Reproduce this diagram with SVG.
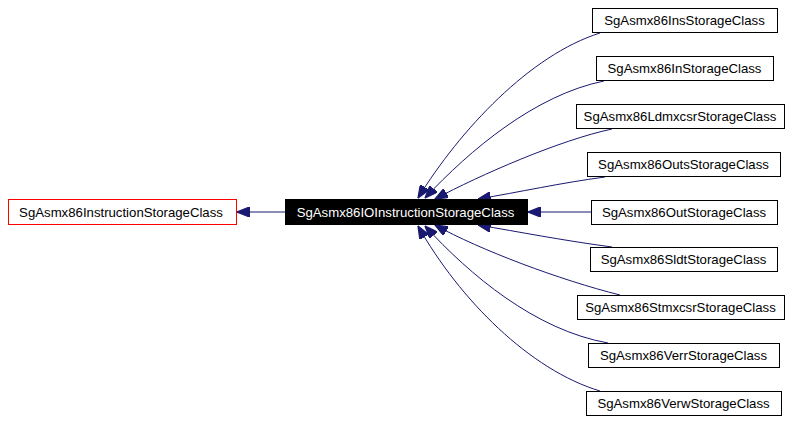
<svg xmlns="http://www.w3.org/2000/svg" width="800" height="421" viewBox="0 0 800 421">
<defs>
<style>
.box{fill:#fff;stroke:#000;stroke-width:1}
.t{font-family:"Liberation Sans",Arial,sans-serif;font-size:13.2px;text-anchor:middle;fill:#000}
.e{fill:none;stroke:#191970;stroke-width:1}
</style>
<marker id="ah" viewBox="0 0 10 8" refX="10" refY="4" markerWidth="13" markerHeight="10" markerUnits="userSpaceOnUse" orient="auto">
<path d="M0,0 L10,4 L0,8 Z" fill="#191970" stroke="#191970"/>
</marker>
</defs>
<rect width="800" height="421" fill="#fff"/>
<g id="connectors">
<path class="e" marker-end="url(#ah)" d="M285,212 L237,212"/>
<path class="e" marker-end="url(#ah)" d="M600,33 C530,55 460,130 418,198"/>
<path class="e" marker-end="url(#ah)" d="M604,81 C535,95 470,150 425,198"/>
<path class="e" marker-end="url(#ah)" d="M612,129 C560,140 480,175 435,199"/>
<path class="e" marker-end="url(#ah)" d="M605,177 C560,183 520,192 478,199"/>
<path class="e" marker-end="url(#ah)" d="M591,212 L528,212"/>
<path class="e" marker-end="url(#ah)" d="M612,247 C560,240 520,232 478,225"/>
<path class="e" marker-end="url(#ah)" d="M620,295 C560,280 480,250 435,225"/>
<path class="e" marker-end="url(#ah)" d="M608,343 C535,330 470,275 425,226"/>
<path class="e" marker-end="url(#ah)" d="M600,391 C530,370 460,300 418,226"/>
</g>
<g id="SgAsmx86InstructionStorageClass">
<rect x="8.5" y="199.5" width="228" height="25" fill="#fff" stroke="#f00"/>
<text class="t" x="121" y="216.5">SgAsmx86InstructionStorageClass</text>
</g>
<g id="SgAsmx86IOInstructionStorageClass">
<rect x="285.5" y="199.5" width="242" height="25" fill="#000" stroke="#000"/>
<text class="t" x="405.5" y="216.5" style="fill:#fff">SgAsmx86IOInstructionStorageClass</text>
</g>
<g id="SgAsmx86InsStorageClass">
<rect class="box" x="592.5" y="8.5" width="185" height="24"/>
<text class="t" x="684.5" y="25">SgAsmx86InsStorageClass</text>
</g>
<g id="SgAsmx86InStorageClass">
<rect class="box" x="596.5" y="56.5" width="177" height="24"/>
<text class="t" x="684.5" y="73">SgAsmx86InStorageClass</text>
</g>
<g id="SgAsmx86LdmxcsrStorageClass">
<rect class="box" x="576.5" y="104.5" width="208" height="24"/>
<text class="t" x="680" y="121">SgAsmx86LdmxcsrStorageClass</text>
</g>
<g id="SgAsmx86OutsStorageClass">
<rect class="box" x="587.5" y="152.5" width="193" height="24"/>
<text class="t" x="683.5" y="169">SgAsmx86OutsStorageClass</text>
</g>
<g id="SgAsmx86OutStorageClass">
<rect class="box" x="591.5" y="200.5" width="186" height="24"/>
<text class="t" x="684" y="217">SgAsmx86OutStorageClass</text>
</g>
<g id="SgAsmx86SldtStorageClass">
<rect class="box" x="590.5" y="247.5" width="187" height="24"/>
<text class="t" x="683.5" y="264">SgAsmx86SldtStorageClass</text>
</g>
<g id="SgAsmx86StmxcsrStorageClass">
<rect class="box" x="577.5" y="295.5" width="207" height="24"/>
<text class="t" x="680.5" y="312">SgAsmx86StmxcsrStorageClass</text>
</g>
<g id="SgAsmx86VerrStorageClass">
<rect class="box" x="588.5" y="343.5" width="191" height="24"/>
<text class="t" x="683.5" y="360">SgAsmx86VerrStorageClass</text>
</g>
<g id="SgAsmx86VerwStorageClass">
<rect class="box" x="586.5" y="391.5" width="195" height="24"/>
<text class="t" x="683.5" y="408">SgAsmx86VerwStorageClass</text>
</g>
</svg>
